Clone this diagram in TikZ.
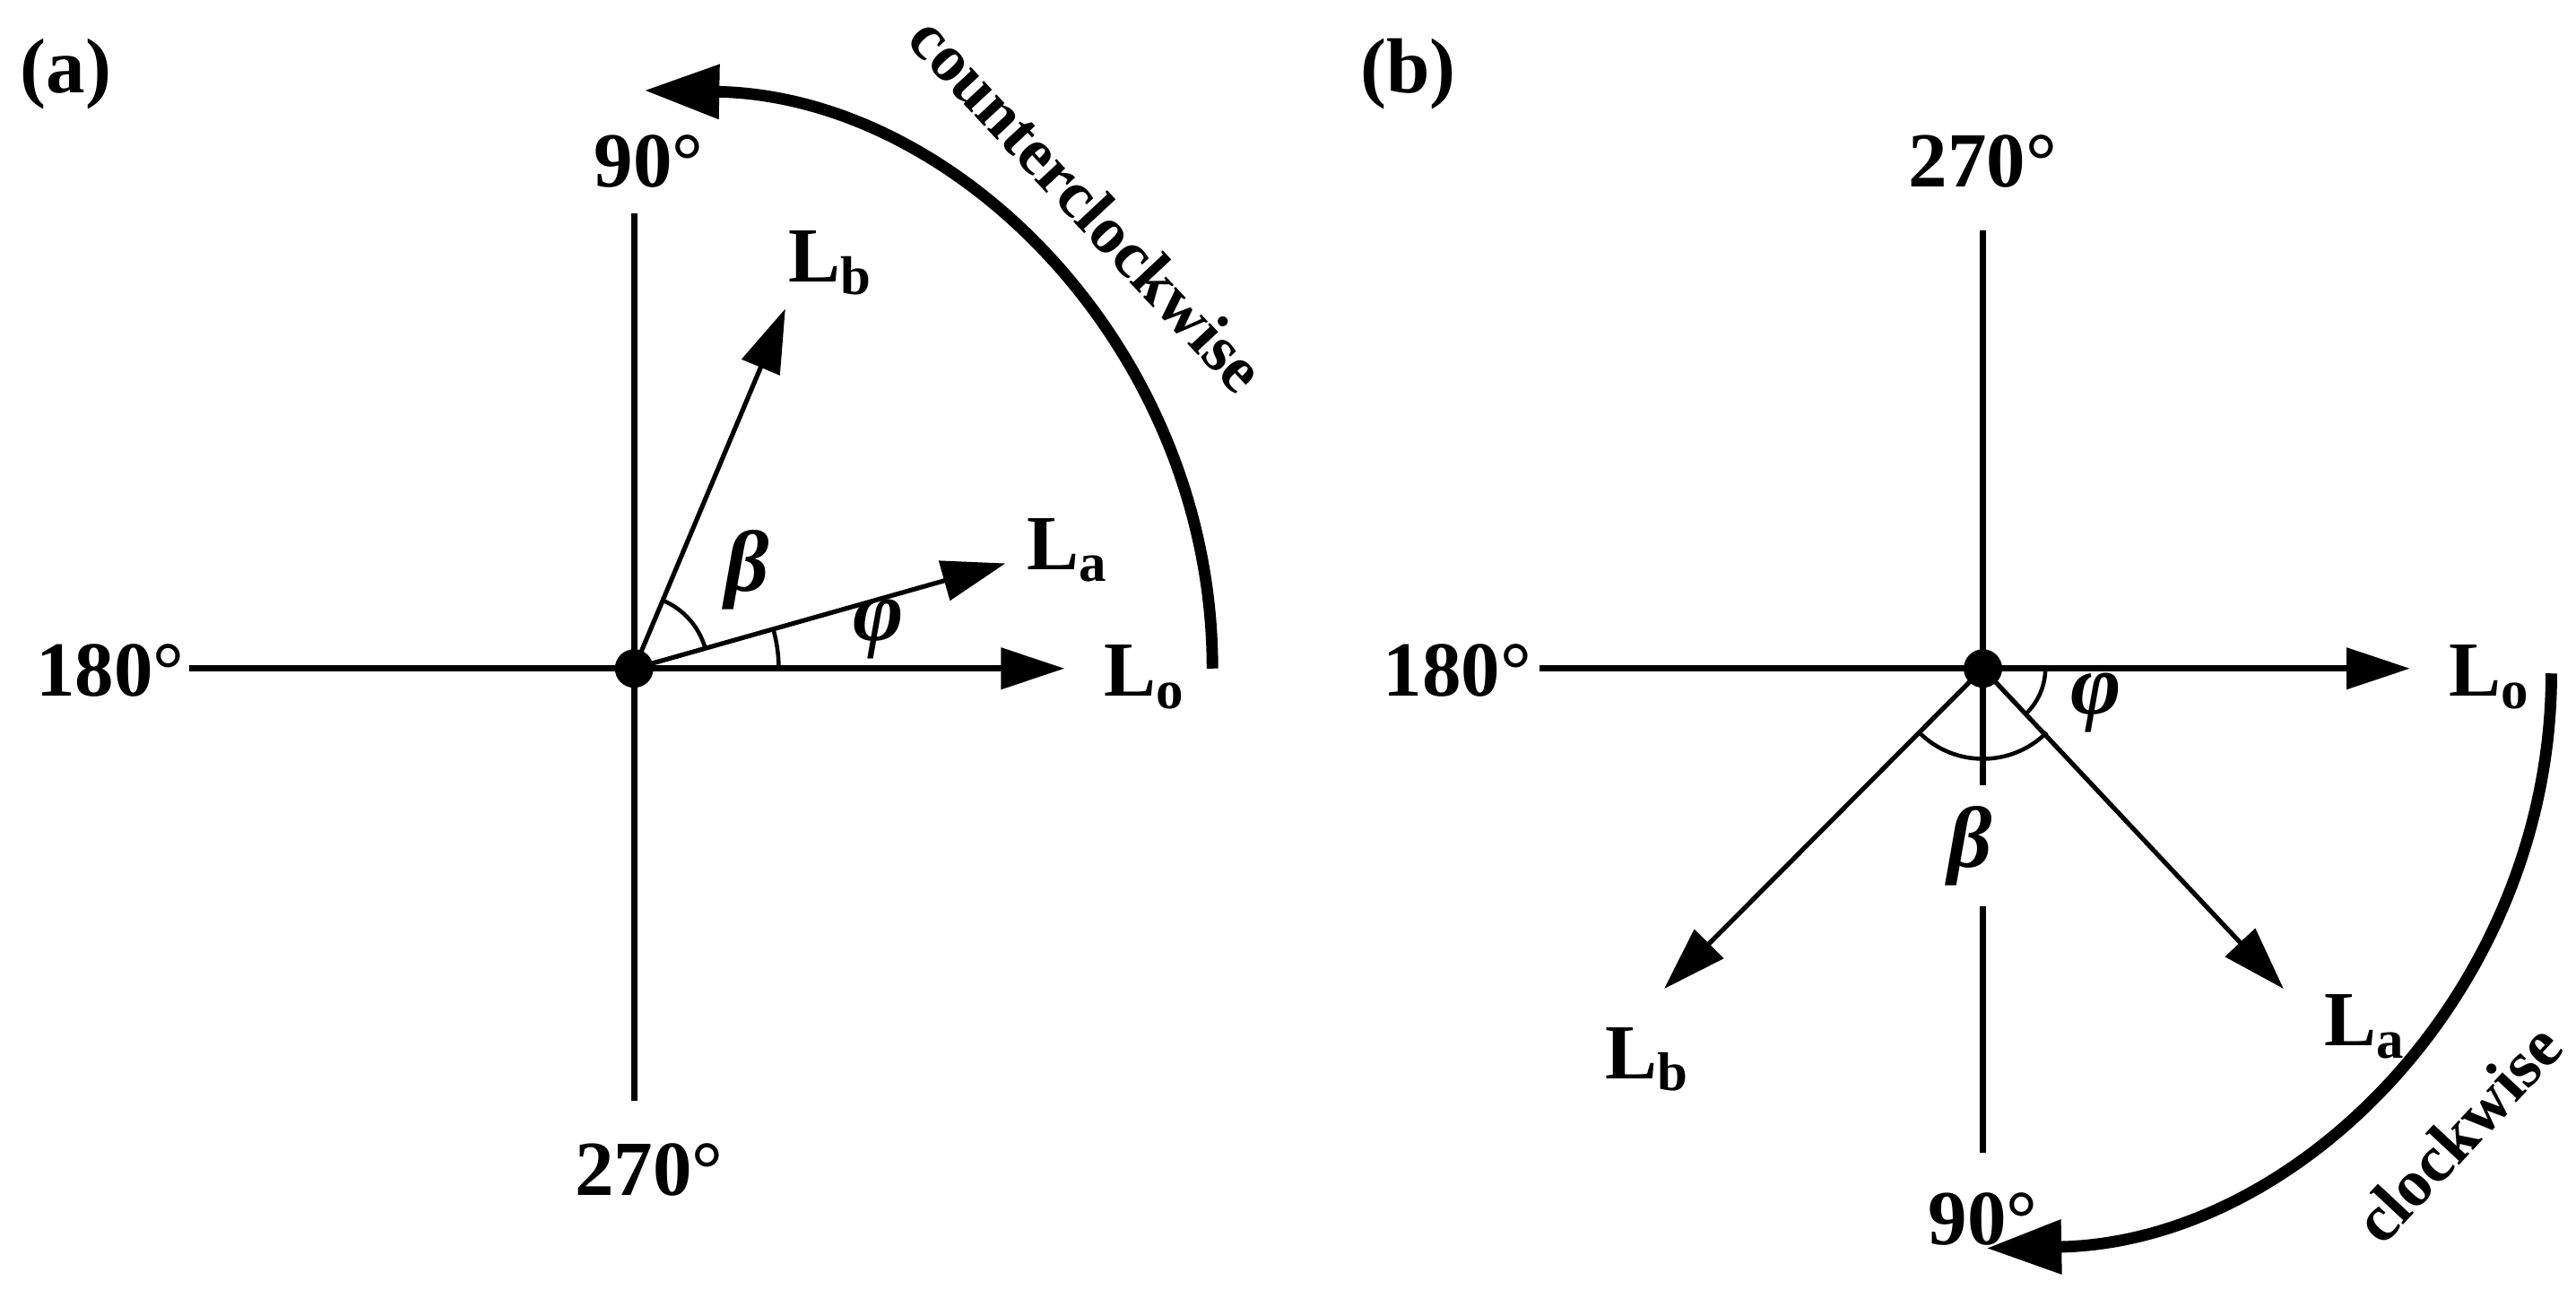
\documentclass[tikz,border=0pt]{standalone}
\usepackage{fontspec}
\setmainfont{Liberation Serif}
\usetikzlibrary{arrows.meta}
\begin{document}
\begin{tikzpicture}[x=0.01cm,y=-0.01cm,
  lbl/.style={font=\fontsize{13.5}{15}\selectfont\bfseries,inner sep=0pt},
  rot/.style={font=\fontsize{11.5}{13}\selectfont\bfseries,inner sep=0pt},
  gr/.style={font=\fontsize{15}{17}\selectfont\bfseries\itshape,inner sep=0pt},
  axis/.style={line width=1.1pt},
  vec/.style={line width=0.8pt,-{Triangle[length=11pt,width=7pt]}},
  big/.style={line width=2pt,-{Triangle[length=13pt,width=9pt]}},
  thin/.style={line width=0.7pt}]
\useasboundingbox (0,0) rectangle (1568,790);
% ---- (a)
\coordinate (O) at (386,407);
\node[lbl] (ta) at (40,45) {(a)};
\coordinate (aT) at (386,130); \coordinate (aB) at (386,670);
\coordinate (aL) at (115,407);
\draw[axis] (aT) -- (aB);
\draw[axis] (aL) -- (O);
\node[lbl] (aLo) at (697,412) {L\textsubscript{o}};
\coordinate (aLoE) at (648,407);
\draw[axis,-{Triangle[length=11pt,width=7pt]}] (O) -- (aLoE);
\coordinate (aLaE) at (612,343);
\draw[vec] (O) -- (aLaE);
\node[lbl] (aLa) at (650,335) {L\textsubscript{a}};
\coordinate (aLbE) at (478,188);
\draw[vec] (O) -- (aLbE);
\node[lbl] (aLb) at (506,160) {L\textsubscript{b}};
\node[lbl] (a90) at (395,98) {90°};
\node[lbl] (a270) at (395,712) {270°};
\node[lbl] (a180) at (67,408) {180°};
\draw[thin] ([shift={(-15.8:45)}]O) arc[start angle=-15.8,end angle=-67,radius=45];
\draw[thin] ([shift={(0:88)}]O) arc[start angle=0,end angle=-15.8,radius=88];
\node[gr] (aBe) at (455,347) {β};
\node[gr] (aP) at (535,383) {φ};
\draw[big] (738,407) arc[start angle=0,end angle=-89,radius=352];
\node[rot,rotate=-47] (ccw) at (662,124) {counterclockwise};
\filldraw (O) circle (11);
% ---- (b)
\coordinate (Q) at (1207,407);
\node[lbl] (tb) at (857,45) {(b)};
\coordinate (bT) at (1207,140); \coordinate (bB1) at (1207,478);
\coordinate (bB2) at (1207,552); \coordinate (bB3) at (1207,702);
\draw[axis] (bT) -- (bB1);
\draw[axis] (bB2) -- (bB3);
\coordinate (bL) at (937,407);
\draw[axis] (bL) -- (Q);
\coordinate (bLoE) at (1467,407);
\draw[axis,-{Triangle[length=11pt,width=7pt]}] (Q) -- (bLoE);
\node[lbl] (bLo) at (1516,412) {L\textsubscript{o}};
\coordinate (bLaE) at (1390,602);
\draw[vec] (Q) -- (bLaE);
\node[lbl] (bLa) at (1440,625) {L\textsubscript{a}};
\coordinate (bLbE) at (1013,602);
\draw[vec] (Q) -- (bLbE);
\node[lbl] (bLb) at (1003,645) {L\textsubscript{b}};
\node[lbl] (b270) at (1207,98) {270°};
\node[lbl] (b90) at (1207,742) {90°};
\node[lbl] (b180) at (887,408) {180°};
\draw[thin] ([shift={(0:38)}]Q) arc[start angle=0,end angle=45,radius=38];
\draw[thin] ([shift={(45:55)}]Q) arc[start angle=45,end angle=135,radius=55];
\node[gr] (bBe) at (1199,515) {β};
\node[gr] (bP) at (1276,428) {φ};
\draw[big] (1553,410) arc[start angle=0,end angle=89,radius=350];
\node[rot,rotate=47] (cw) at (1496,690) {clockwise};
\filldraw (Q) circle (11);
\end{tikzpicture}
\end{document}
